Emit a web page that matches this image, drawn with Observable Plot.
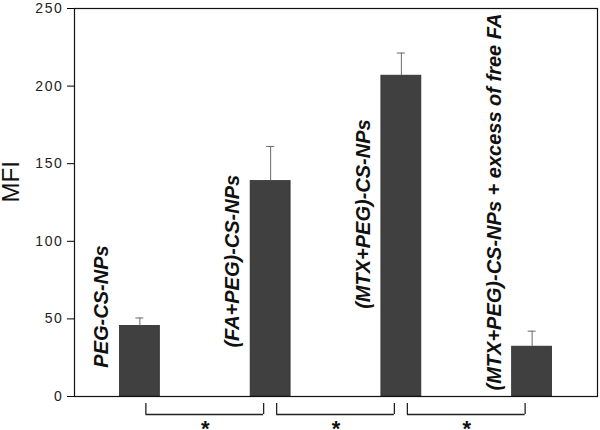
<!DOCTYPE html>
<html>
<head>
<meta charset="utf-8">
<script src="https://cdn.jsdelivr.net/npm/d3@7"></script>
<script src="https://cdn.jsdelivr.net/npm/@observablehq/plot@0.6"></script>
<style>
  html, body { margin: 0; padding: 0; background: #fff; }
  #chart { width: 600px; height: 430px; }
</style>
</head>
<body>
<div id="chart"></div>
<script>
// ---- data ----
const categories = [
  "PEG-CS-NPs",
  "(FA+PEG)-CS-NPs",
  "(MTX+PEG)-CS-NPs",
  "(MTX+PEG)-CS-NPs + excess of free FA"
];
const mfi = [45.5, 138.8, 206.7, 32.1];
const sd = [5.1, 22.3, 14.6, 10.0];
const yTicks = [0, 50, 100, 150, 200, 250];
const comparisonFrom = [0, 1, 2];
const comparisonTo = [1, 2, 3];
const significance = ["*", "*", "*"];

// ---- tables built from the arrays ----
const table = categories.map((c, i) => ({i, category: c, mfi: mfi[i], top: mfi[i] + sd[i]}));
const comps = comparisonFrom.map((f, k) => ({from: f, to: comparisonTo[k], mid: (f + comparisonTo[k]) / 2, sig: significance[k]}));

// label start heights (annotation placement, in MFI units)
const labelStart = [18.6, 31.5, 56.5, 3.9];

const font = "'Liberation Sans', Arial, Helvetica, sans-serif";

const plot = Plot.plot({
  width: 600,
  height: 430,
  marginLeft: 74,
  marginRight: 3,
  marginTop: 8,
  marginBottom: 34,
  style: {fontFamily: font, background: "white", overflow: "visible"},
  x: {type: "linear", domain: [-0.5, 3.5], axis: null},
  y: {domain: [0, 250], ticks: yTicks, tickSize: 7, tickPadding: 4, label: null},
  marks: [
    // bars
    Plot.rectY(table, {
      x1: d => d.i - 0.5, x2: d => d.i + 0.5, y: "mfi",
      insetLeft: 45.4, insetRight: 45.4,
      fill: "#404040", stroke: "#2e2e2e", strokeWidth: 0.8
    }),
    // error bars (upper only)
    Plot.ruleX(table, {x: "i", y1: "mfi", y2: "top", stroke: "#6a6a6a", strokeWidth: 1}),
    Plot.ruleY(table, {y: "top", x1: "i", x2: "i", insetLeft: -4, insetRight: -4, stroke: "#6a6a6a", strokeWidth: 1}),
    // frame
    Plot.frame({stroke: "#111", strokeWidth: 1.2}),
    // rotated bar labels
    Plot.text(table, {
      x: "i", y: d => labelStart[d.i], text: "category",
      rotate: -90, textAnchor: "start", dx: -38,
      fontSize: 20, fontWeight: "bold", fontStyle: "italic", fill: "#111"
    }),
    // significance brackets
    Plot.ruleY(comps, {y: 0, x1: "from", x2: "to", dy: 18, insetLeft: 6, insetRight: 7, stroke: "#222", strokeWidth: 1.3}),
    Plot.ruleX(comps, {x: "from", y1: 0, y2: 0, dx: 6, dy: 7, insetBottom: -11, stroke: "#222", strokeWidth: 1.3}),
    Plot.ruleX(comps, {x: "to", y1: 0, y2: 0, dx: -7, dy: 7, insetBottom: -11, stroke: "#222", strokeWidth: 1.3}),
    Plot.text(comps, {x: "mid", y: 0, text: "sig", dy: 32, fontSize: 22, fontWeight: "bold", fill: "#111"}),
    // y-axis title
    Plot.text(["MFI"], {frameAnchor: "left", rotate: -90, dx: -63.5, text: d => d, fontSize: 24, fill: "#111"})
  ]
});

const svg = d3.select(plot);
svg.selectAll('g[aria-label^="y-axis"]').attr("font-size", 14);
svg.selectAll('g[aria-label^="y-axis"] text')
  .filter(function() { return /^\d+$/.test(this.textContent); })
  .attr("font-size", 14)
  .attr("letter-spacing", "1.6px")
  .attr("fill", "#222");
document.getElementById("chart").appendChild(plot);
</script>
</body>
</html>
